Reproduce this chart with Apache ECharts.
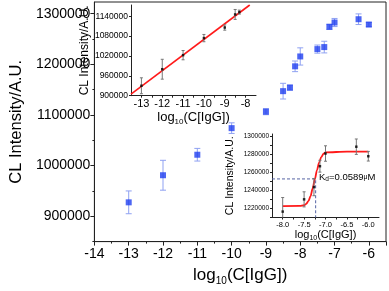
<!DOCTYPE html>
<html><head><meta charset="utf-8">
<script src="https://cdn.jsdelivr.net/npm/echarts@6/dist/echarts.min.js"></script>
<style>html,body{margin:0;padding:0;background:#fff}#c{width:389px;height:291px}</style>
</head><body><div id="c"></div>
<script>
// ---- Main plot data ----
const mainX = [-13, -12, -11, -10, -9, -8.5, -8.3, -8.15, -8.0, -7.5, -7.3, -7.15, -7.0, -6.3, -6.0];
const mainY = [927500, 981000, 1021500, 1074000, 1106500, 1147000, 1154000, 1196000, 1215500, 1230000, 1234000, 1274000, 1282500, 1289000, 1278500];
const mainErr = [22500, 29500, 12500, 10500, 6000, 15500, 5000, 10500, 17000, 8000, 11500, 5000, 8000, 10500, 4000];
const mainXTicks = [-14, -13, -12, -11, -10, -9, -8, -7, -6];
const mainYTicks = [900000, 1000000, 1100000, 1200000, 1300000];
// ---- Inset 1 (linear range) ----
const in1X = [-13, -12, -11, -10, -9, -8.5, -8.3];
const in1Y = [930000, 980000, 1022500, 1074000, 1106000, 1145500, 1152500];
const in1Err = [24000, 30000, 14000, 11000, 8000, 15000, 6000];
const in1FitX = [-13.5, -7.8];
const in1FitY = [905000, 1174000];
const in1XTicks = [-13, -12, -11, -10, -9, -8];
const in1YTicks = [900000, 960000, 1020000, 1080000, 1140000];
// ---- Inset 2 (binding curve) ----
const in2X = [-8.0, -7.5, -7.27, -7.13, -7.0, -6.28, -6.0];
const in2Y = [1216500, 1230000, 1243500, 1266500, 1280500, 1288000, 1277500];
const in2Err = [15500, 8300, 9500, 6500, 8500, 8500, 5300];
const in2FitX = [-8.0, -7.6, -7.5, -7.45, -7.4, -7.35, -7.3, -7.25, -7.2, -7.15, -7.1, -7.05, -7.0, -6.5, -6.0];
const in2FitY = [1222500, 1222700, 1223500, 1225000, 1228000, 1233500, 1242000, 1252000, 1262000, 1270500, 1276500, 1280000, 1281800, 1282500, 1282500];
const in2XTicks = [-8.0, -7.5, -7.0, -6.5, -6.0];
const in2YTicks = [1220000, 1240000, 1260000, 1280000, 1300000];
const kdLog = -7.23;
const kdHalfY = 1252500;
const kdText = '0.0589';

const FONT = 'Liberation Sans, Arial, sans-serif';
const zip = (a, b, c) => a.map((v, i) => c ? [v, b[i], c[i]] : [v, b[i]]);

function errRenderer(color, cap) {
  return function (params, api) {
    const x = api.value(0), y = api.value(1), e = api.value(2);
    const cs = params.coordSys;
    const t = api.coord([x, y + e]), b = api.coord([x, y - e]);
    const y1 = Math.max(t[1], cs.y), y2 = Math.min(b[1], cs.y + cs.height);
    const st = { stroke: color, lineWidth: 1 };
    const ch = [{ type: 'line', shape: { x1: t[0], y1: y1, x2: t[0], y2: y2 }, style: st }];
    if (t[1] >= cs.y) ch.push({ type: 'line', shape: { x1: t[0] - cap, y1: t[1], x2: t[0] + cap, y2: t[1] }, style: st });
    if (b[1] <= cs.y + cs.height) ch.push({ type: 'line', shape: { x1: b[0] - cap, y1: b[1], x2: b[0] + cap, y2: b[1] }, style: st });
    return { type: 'group', children: ch };
  };
}

const axisCol = '#222';
const lineSt = { lineStyle: { color: axisCol, width: 1 } };

const chart = echarts.init(document.getElementById('c'), null, { renderer: 'canvas' });
chart.setOption({
  animation: false,
  grid: [
    { left: 78, top: 2, width: 308, height: 242, show: true, borderColor: axisCol, borderWidth: 1, backgroundColor: 'transparent' },
    { left: 131, top: 5, width: 125, height: 90.7 },
    { left: 272, top: 134, width: 107, height: 83.5 }
  ],
  xAxis: [
    { gridIndex: 0, type: 'value', min: -14, max: -5.5, interval: 1,
      axisLine: { show: true, onZero: false, ...lineSt },
      axisTick: { show: true, length: 4, ...lineSt },
      minorTick: { show: true, splitNumber: 2, length: 2, ...lineSt },
      splitLine: { show: false },
      axisLabel: { fontSize: 14, color: '#000', fontFamily: FONT, margin: 6, showMaxLabel: false,
        formatter: v => mainXTicks.includes(v) ? String(v) : '' },
      name: '{a|log}{b|10}{a|(C[IgG])}', nameLocation: 'middle', nameGap: 19,
      nameTextStyle: { fontFamily: FONT, color: '#000',
        rich: { a: { fontSize: 17, fontFamily: FONT, color: '#000', lineHeight: 22 },
                b: { fontSize: 10, fontFamily: FONT, color: '#000', lineHeight: 5, verticalAlign: 'bottom' } } } },
    { gridIndex: 1, type: 'value', min: -13.5, max: -7.5, interval: 0.5,
      axisLine: { show: true, onZero: false, ...lineSt },
      axisTick: { show: true, length: 2, ...lineSt },
      splitLine: { show: false },
      axisLabel: { fontSize: 11, color: '#000', fontFamily: FONT, margin: 3, showMaxLabel: false, showMinLabel: false,
        formatter: v => in1XTicks.includes(v) ? String(v) : '' },
      name: '{a|log}{b|10}{a|(C[IgG])}', nameLocation: 'middle', nameGap: 12,
      nameTextStyle: { fontFamily: FONT, color: '#000',
        rich: { a: { fontSize: 13, fontFamily: FONT, color: '#000', lineHeight: 17 },
                b: { fontSize: 8, fontFamily: FONT, color: '#000', lineHeight: 4, verticalAlign: 'bottom' } } } },
    { gridIndex: 2, type: 'value', min: -8.25, max: -5.75, interval: 0.25,
      axisLine: { show: true, onZero: false, ...lineSt },
      axisTick: { show: true, length: 2, ...lineSt },
      splitLine: { show: false },
      axisLabel: { fontSize: 7.5, color: '#000', fontFamily: FONT, margin: 3, showMaxLabel: false, showMinLabel: false,
        formatter: v => in2XTicks.includes(v) ? v.toFixed(1) : '' },
      name: '{a|log}{b|10}{a|(C[IgG])}', nameLocation: 'middle', nameGap: 9,
      nameTextStyle: { fontFamily: FONT, color: '#000',
        rich: { a: { fontSize: 11, fontFamily: FONT, color: '#000', lineHeight: 14 },
                b: { fontSize: 7, fontFamily: FONT, color: '#000', lineHeight: 4, verticalAlign: 'bottom' } } } }
  ],
  yAxis: [
    { gridIndex: 0, type: 'value', position: 'left', min: 850000, max: 1323000, interval: 50000,
      axisLine: { show: true, onZero: false, ...lineSt },
      axisTick: { show: true, length: 2, ...lineSt },
      splitLine: { show: false },
      axisLabel: { fontSize: 14, color: '#000', fontFamily: FONT, margin: 4, showMaxLabel: false,
        formatter: v => mainYTicks.includes(v) ? String(v) : '' },
      name: 'CL Intensity/A.U.', nameLocation: 'middle', nameGap: 64,
      nameTextStyle: { fontSize: 16.5, fontFamily: FONT, color: '#000' } },
    { gridIndex: 0, type: 'value', position: 'left', offset: 0, min: 850000, max: 1323000,
      axisLine: { show: false }, splitLine: { show: false }, axisLabel: { show: false },
      axisTick: { show: true, length: 4, customValues: mainYTicks, ...lineSt } },
    { gridIndex: 1, type: 'value', min: 900000, max: 1174000, interval: 60000,
      axisLine: { show: true, onZero: false, ...lineSt },
      axisTick: { show: true, length: 2, ...lineSt },
      splitLine: { show: false },
      axisLabel: { fontSize: 8.5, color: '#000', fontFamily: FONT, margin: 3, showMaxLabel: false,
        formatter: v => in1YTicks.includes(v) ? String(v) : '' },
      name: 'CL Intensity/A.U.', nameLocation: 'middle', nameGap: 35,
      nameTextStyle: { fontSize: 12, fontFamily: FONT, color: '#000' } },
    { gridIndex: 2, type: 'value', min: 1210000, max: 1302000, interval: 10000,
      axisLine: { show: true, onZero: false, ...lineSt },
      axisTick: { show: true, length: 2, ...lineSt },
      splitLine: { show: false },
      axisLabel: { fontSize: 6.5, color: '#000', fontFamily: FONT, margin: 3, showMaxLabel: false,
        formatter: v => in2YTicks.includes(v) ? String(v) : '' },
      name: 'CL Intensity/A.U.', nameLocation: 'middle', nameGap: 36,
      nameTextStyle: { fontSize: 10.5, fontFamily: FONT, color: '#000' } }
  ],
  series: [
    { type: 'custom', xAxisIndex: 0, yAxisIndex: 0, data: zip(mainX, mainY, mainErr),
      renderItem: errRenderer('#8fa1f2', 3), z: 2 },
    { type: 'scatter', xAxisIndex: 0, yAxisIndex: 0, data: zip(mainX, mainY),
      symbol: 'rect', symbolSize: 6, itemStyle: { color: '#1f3ff0' }, z: 3 },
    { type: 'line', xAxisIndex: 1, yAxisIndex: 2, data: zip(in1FitX, in1FitY),
      symbol: 'none', lineStyle: { color: '#ff1a1a', width: 1.6 }, z: 2 },
    { type: 'custom', xAxisIndex: 1, yAxisIndex: 2, data: zip(in1X, in1Y, in1Err),
      renderItem: errRenderer('#777', 1.5), z: 3 },
    { type: 'scatter', xAxisIndex: 1, yAxisIndex: 2, data: zip(in1X, in1Y),
      symbol: 'rect', symbolSize: 2.5, itemStyle: { color: '#000' }, z: 4 },
    { type: 'line', xAxisIndex: 2, yAxisIndex: 3,
      data: [[-8.25, kdHalfY], [kdLog, kdHalfY], [kdLog, 1210000]],
      symbol: 'none', lineStyle: { color: '#5563a3', width: 1, type: [3, 2] }, z: 1 },
    { type: 'line', xAxisIndex: 2, yAxisIndex: 3, data: zip(in2FitX, in2FitY),
      symbol: 'none', smooth: 0.3, smoothMonotone: 'x', lineStyle: { color: '#ff1a1a', width: 1.8 }, z: 2 },
    { type: 'custom', xAxisIndex: 2, yAxisIndex: 3, data: zip(in2X, in2Y, in2Err),
      renderItem: errRenderer('#777', 1.5), z: 3 },
    { type: 'scatter', xAxisIndex: 2, yAxisIndex: 3, data: zip(in2X, in2Y),
      symbol: 'rect', symbolSize: 2.5, itemStyle: { color: '#000' }, z: 4 }
  ],
  graphic: [
    { type: 'text', left: 319, top: 172, z: 10,
      style: { text: '{a|K}{b|d}{a|=' + kdText + '}{c|μ}{a|M}', fill: '#000',
        rich: { a: { fontSize: 9.5, fontFamily: FONT, lineHeight: 12 },
                b: { fontSize: 6.5, fontFamily: FONT, lineHeight: 3, verticalAlign: 'bottom' },
                c: { fontSize: 7, fontFamily: FONT, lineHeight: 12 } } } }
  ]
});
</script></body></html>
